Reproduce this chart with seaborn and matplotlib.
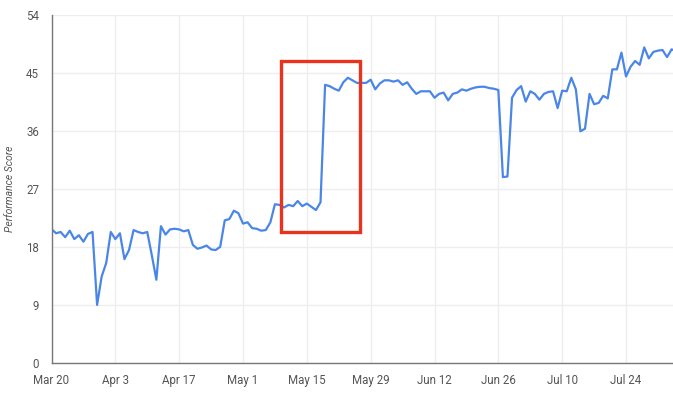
import matplotlib
matplotlib.use("Agg")
import matplotlib.pyplot as plt
import matplotlib.dates as mdates
from matplotlib.patches import Rectangle
import seaborn as sns
import pandas as pd
import numpy as np

start_date = "2024-03-20"
scores = [
    20.75, 20.1, 20.3, 19.5, 20.5, 19.2, 19.8, 18.8, 20.0, 20.3,
    9.0, 13.4, 15.5, 20.3, 19.2, 20.1, 16.1, 17.5, 20.6, 20.3,
    20.1, 20.3, 16.7, 12.9, 21.2, 19.9, 20.7, 20.8, 20.7, 20.4,
    20.6, 18.3, 17.7, 17.9, 18.2, 17.6, 17.5, 18.0, 22.1, 22.3,
    23.6, 23.2, 21.6, 21.8, 20.9, 20.8, 20.5, 20.6, 21.8, 24.6,
    24.5, 24.1, 24.5, 24.3, 25.1, 24.3, 24.7, 24.2, 23.7, 24.9,
    43.1, 42.9, 42.5, 42.2, 43.5, 44.2, 43.8, 43.4, 43.4, 43.4,
    43.9, 42.4, 43.3, 43.8, 43.8, 43.6, 43.8, 43.1, 43.5, 42.5,
    41.7, 42.1, 42.1, 42.1, 41.1, 41.7, 41.9, 40.7, 41.7, 41.9,
    42.4, 42.2, 42.5, 42.7, 42.8, 42.8, 42.6, 42.5, 42.3, 28.8,
    28.9, 41.1, 42.3, 42.9, 40.5, 42.1, 41.7, 40.8, 41.7, 42.0,
    42.1, 39.5, 42.2, 42.1, 44.2, 42.4, 35.9, 36.3, 41.7, 40.1,
    40.3, 41.4, 41.0, 45.5, 45.5, 48.1, 44.4, 45.9, 46.8, 46.2,
    48.9, 47.2, 48.2, 48.4, 48.5, 47.4, 48.6, 48.3,
]
dates = pd.date_range(start_date, periods=len(scores), freq="D")
y_ticks = [0, 9, 18, 27, 36, 45, 54]
x_tick_dates = pd.date_range(start_date, periods=10, freq="14D")
x_tick_labels = ["Mar 20", "Apr 3", "Apr 17", "May 1", "May 15",
                 "May 29", "Jun 12", "Jun 26", "Jul 10", "Jul 24"]
y_label = "Performance Score"

df = pd.DataFrame({"date": dates, "score": scores})

sns.set_style("white")
plt.rcParams["font.family"] = ["Roboto", "DejaVu Sans"]

fig = plt.figure(figsize=(6.73, 4.01), dpi=100)
ax = fig.add_axes([51.5 / 673, 38 / 401, (673 - 51.5) / 673 + 0.002, (363 - 14.5) / 401])

sns.lineplot(data=df, x="date", y="score", ax=ax, color="#4a86e8", linewidth=1.6)

t0 = mdates.date2num(pd.Timestamp(start_date))
ax.set_xlim(t0, t0 + 136.6)
ax.set_ylim(0, 54)
ax.set_yticks(y_ticks)
ax.set_yticklabels([str(v) for v in y_ticks])
ax.set_xticks(mdates.date2num(x_tick_dates))
ax.set_xticklabels(x_tick_labels)

ax.grid(True, color="#eeeeee", linewidth=1.0)
ax.set_axisbelow(True)
for side in ["top", "right"]:
    ax.spines[side].set_visible(False)
for side in ["left", "bottom"]:
    ax.spines[side].set_color("#777777")
    ax.spines[side].set_linewidth(1.0)

ax.tick_params(axis="both", length=0, labelsize=8.3, labelcolor="#555555")
ax.tick_params(axis="y", pad=9)
ax.tick_params(axis="x", pad=8)
ax.set_xlabel("")
ax.set_ylabel(y_label, fontsize=7.5, style="italic", color="#555555", labelpad=8)

rect = Rectangle((t0 + 50.3, 20.3), 67.7 - 50.3, 46.8 - 20.3,
                 fill=False, edgecolor="#e8341c", linewidth=2.4, zorder=5)
ax.add_patch(rect)

fig.savefig("out.png", dpi=100)
